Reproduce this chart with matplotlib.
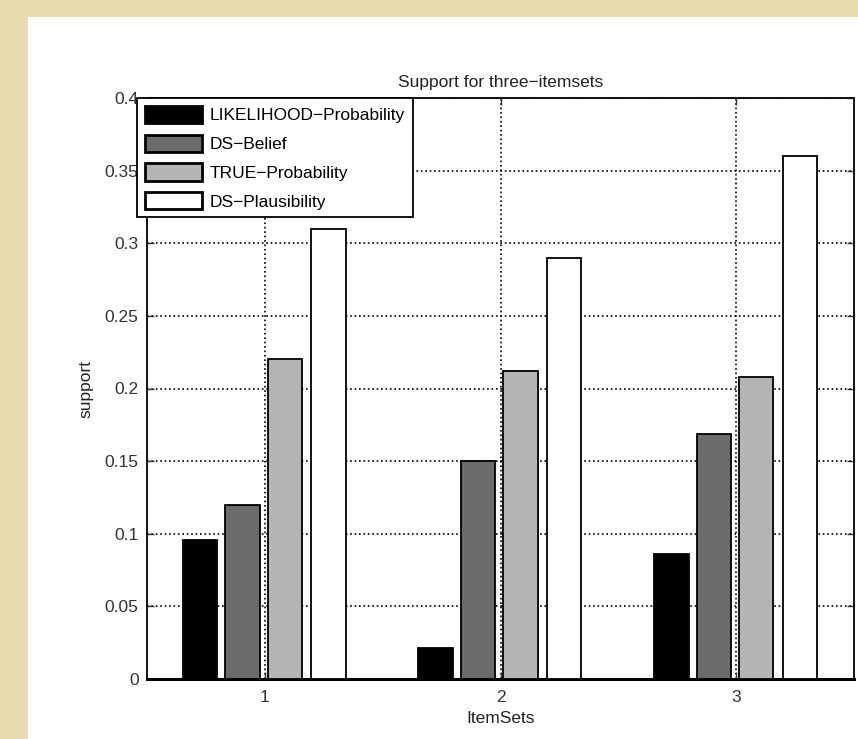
import numpy as np
import matplotlib
matplotlib.use("Agg")
import matplotlib.pyplot as plt
from matplotlib.patches import Rectangle

plt.rcParams['font.family'] = ['Liberation Sans', 'DejaVu Sans']

# Data
itemsets = [1, 2, 3]
series = ["LIKELIHOOD\u2212Probability", "DS\u2212Belief",
          "TRUE\u2212Probability", "DS\u2212Plausibility"]
likelihood = [0.096, 0.021, 0.086]
ds_belief = [0.120, 0.150, 0.169]
true_prob = [0.220, 0.212, 0.208]
ds_plaus = [0.310, 0.290, 0.360]
values = [likelihood, ds_belief, true_prob, ds_plaus]
colors = ["#000000", "#6b6b6b", "#b5b5b5", "#ffffff"]

fig = plt.figure(figsize=(8.58, 7.39), dpi=100, facecolor="#e9dcb1")
# white panel inside the beige frame
fig.patches.append(Rectangle((28 / 858, 0), 1, 1 - 17 / 739,
                             transform=fig.transFigure, facecolor="white",
                             edgecolor="none", zorder=-10))

ax = fig.add_axes([147 / 858, 1 - 679 / 739, 707 / 858, 581 / 739])

x = np.array(itemsets, dtype=float)
width = 0.146
offsets = [-0.275, -0.095, 0.085, 0.27]
for vals, off, col, lab in zip(values, offsets, colors, series):
    ax.bar(x + off, vals, width, color=col, edgecolor="black",
           linewidth=1.3, label=lab, zorder=3)

ax.set_xlim(0.5, 3.5)
ax.set_ylim(0, 0.4)
ax.set_xticks(itemsets)
ax.set_yticks(np.arange(0, 0.401, 0.05))
ax.set_yticklabels(["0", "0.05", "0.1", "0.15", "0.2", "0.25", "0.3", "0.35", "0.4"])
ax.tick_params(direction="in", top=True, right=True, labelsize=12.5,
               length=5, width=1, colors="#333333")
ax.tick_params(axis="y", pad=6)
ax.tick_params(axis="x", pad=8)
ax.grid(True, linestyle=":", color="black", linewidth=1.2, zorder=1)
ax.set_axisbelow(True)
for s in ax.spines.values():
    s.set_linewidth(1.3)
ax.spines["bottom"].set_linewidth(2.2)

ax.set_title("Support for three\u2212itemsets", fontsize=12.5, pad=8, color="#222222")
ax.set_xlabel("ItemSets", fontsize=12.5, labelpad=4, color="#222222")
ax.set_ylabel("support", fontsize=12.5, labelpad=8, color="#222222")

leg = ax.legend(loc="upper left", bbox_to_anchor=(-0.014, 1.0),
                borderaxespad=0, fontsize=12.5, handlelength=3.3,
                handleheight=1.15, labelspacing=0.65, handletextpad=0.45,
                borderpad=0.45, fancybox=False, framealpha=1)
leg.get_frame().set_edgecolor("black")
leg.get_frame().set_linewidth(1.3)
for h in leg.legend_handles:
    h.set_linewidth(2)
leg.set_zorder(5)

fig.savefig("out.png", dpi=100, facecolor=fig.get_facecolor())
